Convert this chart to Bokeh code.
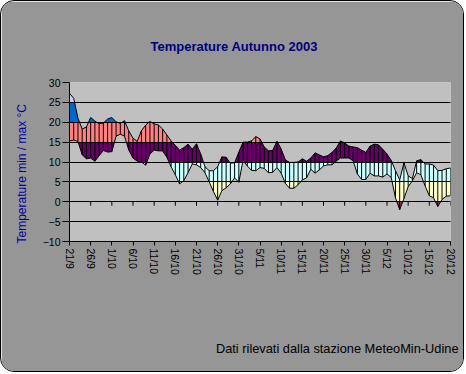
import numpy as np
from bokeh.plotting import figure
from bokeh.models import Range1d, FixedTicker, Title
from bokeh.embed import file_html
from bokeh.resources import INLINE

# ---- data -------------------------------------------------------------
day_index = list(range(91))  # 21/9/2003 .. 20/12/2003
tick_positions = list(range(0, 91, 5))
tick_labels = ["21/9", "26/9", "1/10", "6/10", "11/10", "16/10", "21/10", "26/10",
               "31/10", "5/11", "10/11", "15/11", "20/11", "25/11", "30/11",
               "5/12", "10/12", "15/12", "20/12"]

t_max = [27.3, 26.0, 21.0, 18.3, 18.8, 21.2, 20.3, 19.6, 19.8, 20.8,
         21.2, 20.1, 19.7, 20.4, 17.8, 16.0, 15.2, 17.9, 19.3, 20.2,
         19.6, 19.3, 18.3, 16.8, 15.3, 14.2, 13.0, 13.6, 14.5, 13.2,
         14.6, 12.0, 8.8, 7.8, 7.8, 8.8, 11.3, 11.2, 9.7, 9.8,
         12.5, 15.0, 15.0, 15.3, 16.4, 15.8, 13.8, 12.8, 12.9, 15.2,
         13.3, 10.5, 9.9, 9.9, 10.0, 10.8, 10.2, 11.0, 12.3, 11.8,
         11.3, 11.6, 12.4, 13.5, 15.3, 14.8, 14.0, 13.8, 13.6, 13.0,
         12.4, 14.0, 14.5, 14.3, 13.2, 12.0, 10.4, 7.8, 5.5, 9.8,
         6.5, 5.8, 10.3, 10.6, 9.5, 9.5, 9.2, 7.8, 7.9, 8.3,
         8.5]

t_min = [15.3, 15.5, 15.2, 11.8, 10.8, 11.0, 10.2, 11.6, 12.9, 12.5,
         12.6, 16.5, 17.0, 16.5, 13.0, 11.0, 10.2, 10.0, 9.2, 12.0,
         13.0, 12.8, 12.8, 11.2, 8.8, 6.8, 4.5, 5.3, 7.3, 9.5,
         9.3, 8.6, 7.3, 5.0, 2.6, 0.4, 2.8, 3.5, 4.5, 6.0,
         4.9, 10.5, 9.0, 7.9, 7.8, 8.6, 8.4, 7.3, 7.4, 8.6,
         7.2, 4.6, 3.4, 3.4, 4.3, 5.5, 6.0, 8.2, 7.2, 8.0,
         9.0, 9.3, 9.3, 10.2, 11.0, 11.0, 11.0, 10.3, 7.0, 5.6,
         5.6, 7.2, 6.5, 6.5, 6.2, 7.0, 6.1, 1.0, -2.0, 0.8,
         3.8, 5.3, 7.3, 6.8, 4.0, 1.5, 1.0, -1.2, 0.6, 1.4,
         1.5]

band_edges = [-10, -5, 0, 5, 10, 15, 20, 25, 30]
band_colors = ["#9999FF", "#993366", "#FFFFCC", "#CCFFFF",
               "#660066", "#FF8080", "#0066CC", "#CCCCFF"]
y_ticks = list(range(-10, 31, 5))
drop_line_top = 20

FONT = "Liberation Sans"

# ---- figure -----------------------------------------------------------
p = figure(width=464, height=372,
           x_range=Range1d(0, 90), y_range=Range1d(-10, 30),
           output_backend="svg", toolbar_location=None,
           min_border_left=56, min_border_right=15,
           min_border_top=81, min_border_bottom=132,
           background_fill_color="#C0C0C0", border_fill_color="#969696",
           outline_line_color=None)
p.styles = {"border": "1px solid black", "border-radius": "14px", "overflow": "hidden"}

# band-coloured area between min and max curves
xs = np.linspace(0, 90, 90 * 24 + 1)
hi_d = np.interp(xs, day_index, t_max)
lo_d = np.interp(xs, day_index, t_min)
for lo, hi, col in zip(band_edges[:-1], band_edges[1:], band_colors):
    p.varea(x=xs, y1=np.clip(lo_d, lo, hi), y2=np.clip(hi_d, lo, hi),
            fill_color=col)

# daily vertical lines
p.segment(x0=day_index, y0=t_min, x1=day_index,
          y1=np.minimum(np.array(t_max), drop_line_top),
          line_color="black", line_width=1)

# outlines of the curves
p.line(day_index, t_max, line_color="black", line_width=1)
p.line(day_index, t_min, line_color="black", line_width=1)

# tick marks hanging from the zero line
p.segment(x0=tick_positions, y0=[0] * len(tick_positions),
          x1=tick_positions, y1=[-1.0] * len(tick_positions),
          line_color="black", line_width=1)

# ---- axes -------------------------------------------------------------
p.xgrid.visible = False
p.ygrid.ticker = FixedTicker(ticks=y_ticks)
p.ygrid.grid_line_color = "black"
p.ygrid.level = "overlay"

xa = p.xaxis[0]
xa.ticker = FixedTicker(ticks=tick_positions)
xa.major_label_overrides = {t: l for t, l in zip(tick_positions, tick_labels)}
xa.major_label_orientation = -np.pi / 2
xa.major_tick_out = 4
xa.major_tick_in = 0
xa.minor_tick_out = 0
xa.minor_tick_in = 0
xa.major_label_standoff = 3
xa.major_label_text_font = FONT
xa.major_label_text_font_size = "10.5px"
xa.major_label_text_color = "black"
xa.axis_line_color = "black"
xa.major_tick_line_color = "black"

ya = p.yaxis[0]
ya.ticker = FixedTicker(ticks=y_ticks)
ya.major_tick_out = 7
ya.major_tick_in = 0
ya.minor_tick_out = 0
ya.minor_tick_in = 0
ya.major_label_standoff = 2
ya.major_label_text_font = FONT
ya.major_label_text_font_size = "10.5px"
ya.major_label_text_color = "black"
ya.axis_line_color = "black"
ya.major_tick_line_color = "black"

# ---- texts ------------------------------------------------------------
p.title.text = "Temperature Autunno 2003"
p.title.align = "left"
p.title.offset = 81
p.title.vertical_align = "bottom"
p.title.standoff = 57
p.title.text_font = FONT
p.title.text_font_size = "13px"
p.title.text_font_style = "bold"
p.title.text_color = "#000080"

p.add_layout(Title(text="Temperature min / max  \u00b0C", align="left", offset=-2,
                   vertical_align="bottom", standoff=22, text_font=FONT,
                   text_font_size="12px", text_font_style="normal",
                   text_color="#0000A0"), "left")

p.add_layout(Title(text=" ", standoff=47, text_font=FONT, text_font_size="12px"),
             "below")
p.add_layout(Title(text="Dati rilevati dalla stazione MeteoMin-Udine", align="right",
                   offset=-8, vertical_align="top", standoff=0, text_font=FONT,
                   text_font_size="12.8px", text_font_style="normal",
                   text_color="black"), "below")

open("out.html", "w").write(file_html(p, INLINE))
